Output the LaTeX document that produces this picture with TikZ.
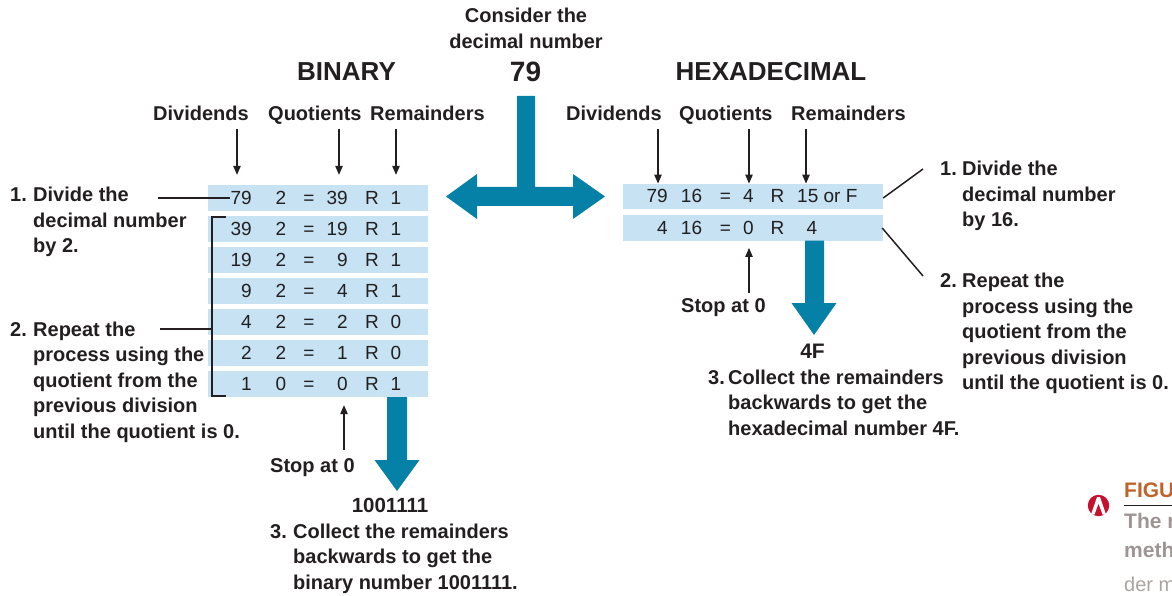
\documentclass[tikz,border=0pt]{standalone}
\usepackage{fontspec}
\setmainfont{Liberation Sans}
\usetikzlibrary{arrows.meta}
\definecolor{rowblue}{HTML}{C6E2F3}
\definecolor{arrowteal}{HTML}{0580A6}
\definecolor{ink}{HTML}{231F20}
\definecolor{figorange}{HTML}{C0632B}
\definecolor{capgrey}{HTML}{9D9593}
\definecolor{capgreylight}{HTML}{A9A4A2}
\definecolor{iconred}{HTML}{C8102E}
\newcommand{\hangitem}[3]{\begin{tabular}[t]{@{}l@{}l@{}}\makebox[#1][l]{#2}&#3\end{tabular}}
\begin{document}
\begin{tikzpicture}[x=1pt,y=-1pt,
  lbl/.style={font=\fontsize{20}{25.5}\selectfont\bfseries, text=ink, inner sep=0pt},
  cell/.style={font=\fontsize{19}{22}\selectfont, text=ink, inner sep=0pt},
  title/.style={font=\fontsize{26}{30}\selectfont\bfseries, text=ink, inner sep=0pt},
  rowbox/.style={fill=rowblue, draw=none, inner sep=0pt, minimum height=26pt},
  hdrarrow/.style={-{Triangle[length=9pt,width=7.5pt]}, line width=1.1pt, draw=ink},
  annot/.style={line width=1.5pt, draw=ink},
  bigarrow/.style={fill=arrowteal, draw=none}]
\useasboundingbox (0,0) rectangle (1172,596);
\clip (0,0) rectangle (1172,596);

% ---------- top ----------
\node[lbl, anchor=base] (consider) at (526,23) {\begin{tabular}[t]{@{}c@{}}Consider the\\decimal number\end{tabular}};
\node[font=\fontsize{28}{32}\selectfont\bfseries, text=ink, inner sep=0pt, anchor=base] (num) at (525.5,82) {79};
\node[title, anchor=base] (bin) at (346.5,81) {BINARY};
\node[title, anchor=base] (hex) at (771,81) {HEXADECIMAL};

% centre T arrow
\fill[bigarrow] (517,96) -- (535,96) -- (535,187) -- (573,187) -- (573,174) -- (605,196.5) -- (573,219) -- (573,206)
  -- (477,206) -- (477,219) -- (446,196.5) -- (477,174) -- (477,187) -- (517,187) -- cycle;

% ---------- binary table ----------
\foreach \dd/\dv/\q/\r [count=\i from 1] in {79/2/39/1, 39/2/19/1, 19/2/9/1, 9/2/4/1, 4/2/2/0, 2/2/1/0, 1/0/0/1} {
  \node[rowbox, minimum width=220pt] (b\i) at (318,{167+31*\i}) {};
  \node[cell, anchor=base east] (b\i d) at (252,{173.5+31*\i}) {\dd};
  \node[cell, anchor=base] (b\i v) at (281,{173.5+31*\i}) {\dv};
  \node[cell, anchor=base] (b\i e) at (309,{173.5+31*\i}) {=};
  \node[cell, anchor=base east] (b\i q) at (348,{173.5+31*\i}) {\q};
  \node[cell, anchor=base] (b\i R) at (372,{173.5+31*\i}) {R};
  \node[cell, anchor=base] (b\i r) at (396,{173.5+31*\i}) {\r};
}

% headers binary
\node[lbl, anchor=base west] (bhd) at (153,121) {Dividends};
\node[lbl, anchor=base west] (bhq) at (268,121) {Quotients};
\node[lbl, anchor=base west] (bhr) at (370,121) {Remainders};
\coordinate (bad) at (237,129);
\coordinate (baq) at (339,129);
\coordinate (bar) at (396,129);
\draw[hdrarrow, shorten >=10pt] (bad) -- (bad |- b1.north);
\draw[hdrarrow, shorten >=10pt] (baq) -- (baq |- b1.north);
\draw[hdrarrow, shorten >=10pt] (bar) -- (bar |- b1.north);

% left annotations
\node[lbl, anchor=base west] (bstep1) at (10,202) {\hangitem{23pt}{1.}{Divide the\\&decimal number\\&by 2.}};
\node[lbl, anchor=base west] (bstep2) at (10,336) {\hangitem{23pt}{2.}{Repeat the\\&process using the\\&quotient from the\\&previous division\\&until the quotient is 0.}};
\coordinate (l1) at (158,198);
\draw[annot] (l1) -- (l1 -| b1d.west);
\coordinate (l2) at (160,329);
\coordinate (brk) at (212,329);
\draw[annot] (l2) -- (brk);
\draw[line width=2pt, draw=ink] (226,216.7) -- (212,216.7) -- (212,395.5) -- (226,395.5);

% binary bottom
\fill[bigarrow] (387,397) -- (407,397) -- (407,460) -- (419.5,460) -- (397,491) -- (374.5,460) -- (387,460) -- cycle;
\node[lbl, anchor=base west] (bstop) at (270,472) {Stop at 0};
\coordinate (bstopa) at (344,450);
\draw[hdrarrow] (bstopa) -- ([yshift=-8pt]bstopa |- b7.south);
\node[font=\fontsize{20.5}{24}\selectfont\bfseries, text=ink, inner sep=0pt, anchor=base] (bres) at (390,512.5) {1001111};
\node[lbl, anchor=base west] (bstep3) at (270,538) {\hangitem{23pt}{3.}{Collect the remainders\\&backwards to get the\\&binary number 1001111.}};

% ---------- hexadecimal table ----------
\node[rowbox, minimum width=260pt, minimum height=25.5pt] (h1) at (753,196.5) {};
\node[rowbox, minimum width=260pt, minimum height=25.5pt] (h2) at (753,228) {};
\node[cell, anchor=base east] (h1d) at (668,203) {79};
\node[cell, anchor=base] (h1v) at (691.5,203) {16};
\node[cell, anchor=base] (h1e) at (725.5,203) {=};
\node[cell, anchor=base] (h1q) at (748.5,203) {4};
\node[cell, anchor=base] (h1R) at (777.5,203) {R};
\node[cell, anchor=base west] (h1r) at (797,203) {15 or F};
\node[cell, anchor=base east] (h2d) at (668,234.5) {4};
\node[cell, anchor=base] (h2v) at (691.5,234.5) {16};
\node[cell, anchor=base] (h2e) at (725.5,234.5) {=};
\node[cell, anchor=base] (h2q) at (748.5,234.5) {0};
\node[cell, anchor=base] (h2R) at (777.5,234.5) {R};
\node[cell, anchor=base] (h2r) at (812,234.5) {4};

% headers hex
\node[lbl, anchor=base west] (hhd) at (566,121) {Dividends};
\node[lbl, anchor=base west] (hhq) at (679,121) {Quotients};
\node[lbl, anchor=base west] (hhr) at (791,121) {Remainders};
\coordinate (had) at (658,129);
\coordinate (haq) at (749,129);
\coordinate (har) at (806,129);
\draw[hdrarrow] (had) -- (had |- h1.north);
\draw[hdrarrow] (haq) -- (haq |- h1.north);
\draw[hdrarrow] (har) -- (har |- h1.north);

% right annotations
\node[lbl, anchor=base west] (hstep1) at (940,176) {\hangitem{22pt}{1.}{Divide the\\&decimal number\\&by 16.}};
\node[lbl, anchor=base west] (hstep2) at (940,287.5) {\hangitem{22pt}{2.}{Repeat the\\&process using the\\&quotient from the\\&previous division\\&until the quotient is 0.}};
\coordinate (r1) at (923,169);
\coordinate (r2) at (923,276);
\draw[annot] ([yshift=-1.5pt]h1.east) -- (r1);
\draw[annot] ([xshift=-1pt]h2.east) -- (r2);

% hex bottom
\fill[bigarrow] (805,240.7) -- (824,240.7) -- (824,303) -- (836.5,303) -- (814,335) -- (791.5,303) -- (805,303) -- cycle;
\node[lbl, anchor=base west] (hstop) at (681,312.5) {Stop at 0};
\coordinate (hstopa) at (749,293);
\draw[hdrarrow] (hstopa) -- ([yshift=-7pt]hstopa |- h2.south);
\node[font=\fontsize{21}{24}\selectfont\bfseries, text=ink, inner sep=0pt, anchor=base] (hres) at (812.5,358) {4F};
\node[lbl, anchor=base west] (hstep3) at (708,384) {\hangitem{20pt}{3.}{Collect the remainders\\&backwards to get the\\&hexadecimal number 4F.}};

% ---------- caption fragment ----------
\fill[iconred] (1098.5,505.5) circle[radius=10.7];
\fill[white] (1091,514.5) -- (1097,497) -- (1100,497) -- (1106,514.5) -- (1102.5,514.5) -- (1098.5,503.5) -- (1094.5,514.5) -- cycle;
\node[font=\fontsize{21}{24}\selectfont\bfseries, text=figorange, inner sep=0pt, anchor=base west] (figlbl) at (1124,497) {FIGU};
\draw[line width=1.2pt, draw=ink] (1124,505.5) -- (1172,505.5);
\node[font=\fontsize{21}{24}\selectfont\bfseries, text=capgrey, inner sep=0pt, anchor=base west] (cap1) at (1124,528) {The r};
\node[font=\fontsize{21}{24}\selectfont\bfseries, text=capgrey, inner sep=0pt, anchor=base west] (cap2) at (1124,557) {meth};
\node[font=\fontsize{20}{24}\selectfont, text=capgreylight, inner sep=0pt, anchor=base west] (cap3) at (1124,591) {der m};
\end{tikzpicture}
\end{document}
